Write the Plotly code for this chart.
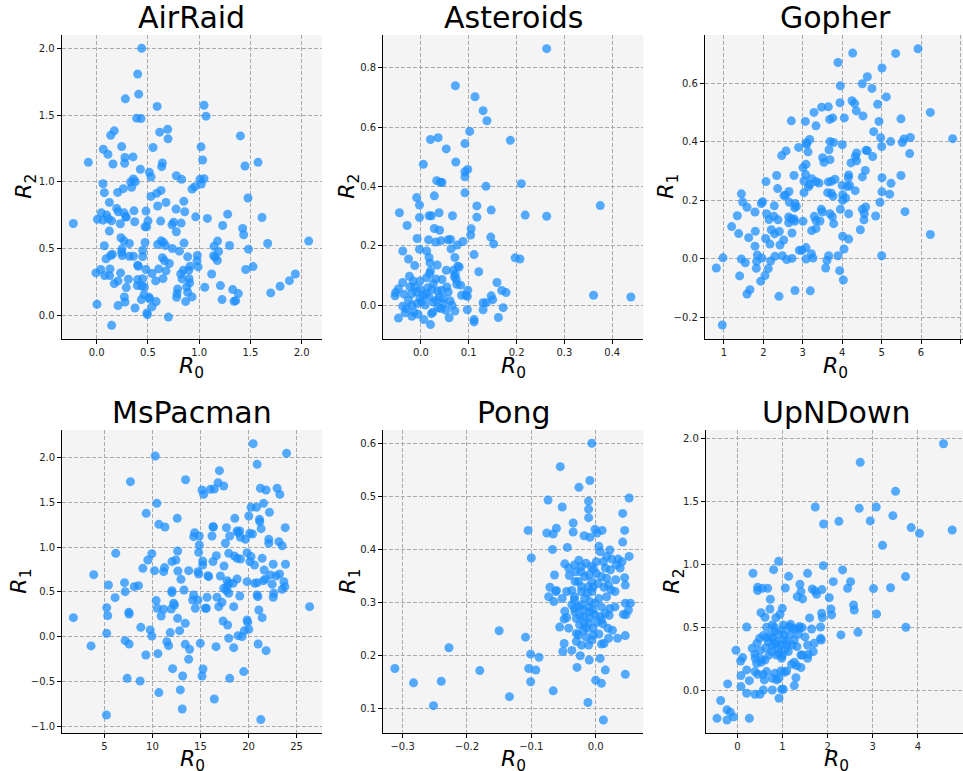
import plotly.graph_objects as go

# ---------------- data ----------------
AIRRAID_R0 = [
    0.439, 0.40, 0.41, 0.28, 0.59, 1.047, 1.067, 0.39, 0.433, 0.172,
    0.137, 0.615, 0.693, 0.696, 1.402, 0.065, 0.244, 0.55, 1.018, 0.11,
    -0.081, 0.276, 0.354, 0.273, 0.159, 1.034, 0.641, 0.634, 1.447, 1.574,
    0.426, 0.514, 0.53, 0.777, 0.829, 1.008, 1.047, 1.021, 0.959, 0.93,
    0.062, 0.075, 0.358, 0.332, 0.377, 0.341, 0.26, 0.205, 0.53, 0.585,
    0.628, 0.676, 0.595, 0.85, 0.859, 0.774, 0.124, 1.476, 0.195, 0.211,
    0.046, 0.098, 0.007, 0.062, 0.114, 0.146, 0.267, 0.289, 0.364, 0.481,
    0.501, 0.488, 0.371, 0.231, 0.124, -0.228, 0.624, 0.751, 0.735, 0.824,
    0.777, 0.966, 1.08, 1.278, 1.229, 1.424, 1.434, 1.613, 2.068, 1.668,
    1.48, 1.296, 1.179, 1.145, 1.189, 1.141, 1.158, 1.177, 1.454, 1.525,
    0.075, 0.237, 0.267, 0.319, 0.247, 0.244, 0.153, 0.137, 0.091, 0.25,
    0.319, 0.358, 0.449, 0.472, 0.449, 0.595, 0.628, 0.65, 0.67, 0.738,
    0.807, 0.852, 0.641, 0.663, 0.709, 0.888, 0.982, 0.979, 0.989, 0.911,
    0.898, 0.846, 0.82, 0.833, 0.901, 0.907, 0.878, 0.888, 0.93, 0.868,
    0.79, 0.784, 0.78, 0.7, 0.491, 0.494, 0.54, 0.58, 0.511, 0.517,
    0.462, 0.374, 0.276, 0.27, 0.208, 0.003, 0.146, -0.007, 0.039, 0.078,
    0.127, 0.13, 0.172, 0.208, 0.234, 0.289, 0.309, 0.4, 0.4, 0.397,
    0.439, 0.465, 0.449, 0.481, 0.54, 0.576, 0.605, 0.647, 0.676, 1.054,
    1.122, 1.207, 1.223, 1.327, 1.382, 1.34, 1.356, 1.698, 1.789, 1.88,
    1.938, 0.472, 0.407, 0.283, 0.436,
]
AIRRAID_R2 = [
    2.0, 1.807, 1.657, 1.622, 1.565, 1.574, 1.492, 1.477, 1.474, 1.382,
    1.349, 1.372, 1.394, 1.322, 1.344, 1.244, 1.264, 1.257, 1.262, 1.207,
    1.146, 1.182, 1.187, 1.139, 1.134, 1.164, 1.141, 1.114, 1.119, 1.146,
    1.094, 1.071, 1.036, 1.046, 1.019, 1.019, 1.024, 0.984, 0.964, 0.946,
    0.986, 0.919, 1.021, 0.999, 1.001, 0.959, 0.949, 0.921, 0.891, 0.914,
    0.936, 0.846, 0.819, 0.854, 0.776, 0.796, 0.846, 0.879, 0.801, 0.776,
    0.768, 0.751, 0.719, 0.713, 0.723, 0.708, 0.768, 0.738, 0.783, 0.781,
    0.708, 0.663, 0.701, 0.686, 0.631, 0.688, 0.706, 0.698, 0.678, 0.691,
    0.626, 0.738, 0.726, 0.758, 0.673, 0.651, 0.604, 0.733, 0.556, 0.538,
    0.496, 0.523, 0.556, 0.518, 0.478, 0.446, 0.436, 0.411, 0.343, 0.365,
    0.521, 0.581, 0.558, 0.538, 0.498, 0.473, 0.458, 0.448, 0.423, 0.448,
    0.443, 0.443, 0.488, 0.546, 0.441, 0.531, 0.558, 0.548, 0.523, 0.501,
    0.481, 0.541, 0.431, 0.408, 0.388, 0.438, 0.448, 0.408, 0.363, 0.368,
    0.338, 0.338, 0.31, 0.273, 0.275, 0.243, 0.213, 0.173, 0.138, 0.103,
    0.198, 0.163, 0.135, -0.013, 0.018, 0.005, 0.063, 0.103, 0.135, 0.123,
    0.155, 0.055, 0.1, 0.138, 0.073, 0.083, -0.075, 0.318, 0.343, 0.298,
    0.298, 0.348, 0.238, 0.258, 0.318, 0.208, 0.27, 0.375, 0.268, 0.223,
    0.22, 0.213, 0.275, 0.343, 0.313, 0.258, 0.348, 0.275, 0.333, 0.21,
    0.31, 0.223, 0.118, 0.193, 0.163, 0.105, 0.11, 0.168, 0.218, 0.26,
    0.31, 0.663, 0.368, 0.736, 0.118,
]

ASTEROIDS_R0 = [
    0.263, 0.072, 0.113, 0.130, 0.138, 0.102, 0.187, 0.020, 0.036, 0.092,
    0.053, 0.005, 0.073, 0.098, 0.092, 0.092, 0.033, 0.041, 0.044, 0.210,
    0.136, 0.092, 0.028, -0.009, -0.003, 0.117, 0.147, 0.375, -0.045, 0.017,
    0.022, 0.038, 0.066, 0.117, 0.218, 0.263, -0.003, -0.029, 0.028, 0.039,
    0.105, 0.104, -0.008, 0.016, 0.031, 0.042, 0.057, 0.062, 0.076, 0.088,
    0.146, 0.152, -0.038, -0.003, 0.012, 0.063, 0.111, -0.026, 0.017, 0.071,
    0.197, 0.207, -0.013, 0.019, 0.034, 0.020, 0.053, 0.068, 0.077, 0.080,
    0.121, 0.072, -0.024, 0.012, 0.031, 0.044, 0.074, -0.038, -0.016, -0.002,
    0.075, 0.083, 0.159, -0.047, -0.053, -0.054, -0.035, -0.013, -0.009, -0.001,
    0.005, 0.014, 0.023, 0.035, 0.043, 0.057, 0.085, 0.098, 0.094, 0.097,
    0.169, 0.178, 0.147, 0.130, 0.137, 0.150, 0.172, 0.361, 0.439, -0.038,
    -0.030, -0.019, -0.008, 0.001, 0.009, 0.026, 0.036, 0.047, 0.061, 0.065,
    0.052, 0.097, 0.130, -0.047, -0.019, -0.006, 0.006, 0.020, 0.022, 0.059,
    0.111, 0.111, 0.162, -0.014, -0.026, 0.038, 0.017, 0.047, -0.002, -0.019,
    0.026, 0.054, -0.023, 0.042, 0.071, -0.033,
    0.018, 0.070, 0.011, 0.032, 0.025,
]
ASTEROIDS_R2 = [
    0.865, 0.740, 0.703, 0.656, 0.622, 0.586, 0.556, 0.559, 0.565, 0.545,
    0.527, 0.475, 0.483, 0.458, 0.450, 0.433, 0.420, 0.415, 0.414, 0.410,
    0.401, 0.379, 0.369, 0.363, 0.338, 0.335, 0.321, 0.336, 0.312, 0.302,
    0.302, 0.312, 0.302, 0.297, 0.304, 0.300, 0.296, 0.269, 0.259, 0.253,
    0.258, 0.237, 0.225, 0.221, 0.213, 0.218, 0.221, 0.222, 0.203, 0.215,
    0.230, 0.207, 0.183, 0.189, 0.183, 0.190, 0.171, 0.156, 0.161, 0.161,
    0.160, 0.156, 0.134, 0.143, 0.136, 0.116, 0.118, 0.118, 0.132, 0.129,
    0.113, 0.105, 0.098, 0.093, 0.089, 0.087, 0.087, 0.077, 0.082, 0.082,
    0.071, 0.068, 0.077, 0.056, 0.043, 0.032, 0.037, 0.062, 0.045, 0.053,
    0.034, 0.059, 0.053, 0.048, 0.051, 0.045, 0.034, 0.051, 0.034, 0.030,
    0.050, 0.043, 0.032, 0.009, 0.009, 0.019, -0.008, 0.034, 0.028, -0.003,
    -0.011, 0.000, 0.006, 0.011, 0.001, 0.011, -0.008, 0.006, 0.015, 0.000,
    -0.017, -0.015, -0.015, -0.043, -0.037, -0.030, -0.048, -0.065, -0.028, -0.042,
    -0.048, -0.056, -0.041, -0.023, 0.017, 0.028, 0.028, 0.023, 0.023, 0.039,
    0.073, 0.062, 0.062, -0.011, -0.019, -0.025,
    0.107, 0.096, 0.039, 0.017, -0.023,
]

GOPHER_R0 = [
    5.924, 5.357, 4.266, 3.893, 5.010, 4.638, 4.511, 4.756, 3.953, 5.120,
    4.900, 4.249, 4.316, 3.944, 4.359, 4.528, 3.479, 3.648, 3.284, 6.237,
    3.758, 3.682, 4.054, 2.709, 3.064, 3.335, 5.492, 4.934, 4.799, 6.804,
    4.976, 5.230, 5.569, 5.729, 5.526, 5.002, 3.174, 3.090, 3.690, 3.783,
    4.003, 2.895, 3.132, 3.665, 2.574, 2.464, 4.604, 4.638, 4.367, 4.333,
    4.773, 5.712, 3.504, 3.690, 3.538, 4.223, 4.367, 3.005, 3.081, 2.337,
    2.777, 3.073, 3.225, 3.030, 3.335, 3.411, 3.648, 3.724, 3.817, 4.164,
    4.156, 4.511, 4.587, 5.010, 5.492, 2.066, 2.362, 2.650, 2.523, 2.565,
    3.140, 3.182, 3.030, 4.000, 4.186, 4.135, 4.329, 3.631, 3.724, 3.766,
    4.012, 4.088, 4.012, 5.010, 5.239, 5.205, 1.440, 1.474, 1.584, 1.787,
    1.981, 1.948, 2.277, 2.658, 2.802, 2.836, 2.794, 1.338, 1.195, 1.372,
    1.626, 1.787, 2.083, 2.142, 2.269, 2.371, 2.642, 2.709, 2.777, 2.642,
    2.794, 3.005, 3.293, 3.335, 3.437, 3.470, 3.496, 3.750, 3.783, 3.690,
    3.953, 4.164, 4.511, 4.596, 4.562, 4.553, 4.849, 4.959, 5.594, 3.225,
    3.335, 2.201, 2.286, 2.404, 2.514, 2.421, 2.167, 2.058, 2.726, 4.012,
    4.164, 4.460, 6.237, 2.912, 2.980, 3.081, 3.217, 3.259, 3.081, 4.046,
    3.893, 3.656, 3.614, 5.002, 0.975, 0.805, 1.398, 1.440, 1.541, 1.829,
    1.821, 1.964, 2.041, 1.931, 2.184, 2.125, 2.294, 2.481, 2.591, 2.726,
    1.660, 1.584, 2.396, 2.802, 3.191, 3.580, 3.936, 4.029, 0.958, 1.795,
    1.846, 3.098,
]
GOPHER_R1 = [
    0.719, 0.703, 0.704, 0.672, 0.653, 0.623, 0.599, 0.583, 0.592, 0.554,
    0.529, 0.541, 0.531, 0.534, 0.506, 0.489, 0.519, 0.520, 0.501, 0.501,
    0.482, 0.477, 0.482, 0.472, 0.470, 0.455, 0.479, 0.470, 0.435, 0.411,
    0.414, 0.401, 0.410, 0.415, 0.398, 0.384, 0.408, 0.397, 0.401, 0.398,
    0.390, 0.381, 0.366, 0.373, 0.369, 0.353, 0.371, 0.370, 0.362, 0.350,
    0.350, 0.360, 0.346, 0.339, 0.330, 0.328, 0.335, 0.312, 0.323, 0.285,
    0.285, 0.288, 0.274, 0.266, 0.264, 0.259, 0.263, 0.265, 0.272, 0.287,
    0.277, 0.280, 0.302, 0.277, 0.285, 0.264, 0.240, 0.230, 0.216, 0.217,
    0.246, 0.254, 0.226, 0.251, 0.251, 0.247, 0.233, 0.226, 0.224, 0.214,
    0.219, 0.208, 0.200, 0.229, 0.258, 0.221, 0.222, 0.194, 0.176, 0.160,
    0.195, 0.189, 0.181, 0.193, 0.189, 0.179, 0.174, 0.147, 0.110, 0.086,
    0.072, 0.043, 0.154, 0.134, 0.145, 0.133, 0.143, 0.136, 0.136, 0.123,
    0.128, 0.128, 0.145, 0.131, 0.129, 0.169, 0.160, 0.144, 0.120, 0.154,
    0.169, 0.154, 0.169, 0.177, 0.154, 0.133, 0.146, 0.193, 0.161, 0.096,
    0.103, 0.099, 0.085, 0.093, 0.064, 0.047, 0.050, 0.069, 0.088, 0.077,
    0.067, 0.099, 0.083, 0.029, 0.029, 0.038, 0.017, 0.002, -0.001, 0.033,
    0.010, 0.010, -0.006, 0.010, 0.003, -0.032, -0.059, -0.001, -0.014, -0.009,
    -0.033, 0.002, -0.058, -0.077, -0.008, -0.034, 0.008, 0.010, -0.003, 0.001,
    -0.106, -0.121, -0.129, -0.109, -0.110, -0.032, -0.041, -0.073, -0.227, 0.094,
    0.013, 0.392,
]

MSPACMAN_R0 = [
    20.48, 23.96, 10.29, 20.90, 16.97, 7.71, 13.45, 16.83, 17.42, 15.16,
    15.33, 16.03, 16.44, 21.24, 21.83, 22.98, 23.26, 10.46, 20.27, 20.83,
    21.56, 22.18, 9.35, 12.58, 10.67, 11.30, 21.14, 21.17, 20.03, 18.57,
    16.30, 16.34, 17.70, 21.31, 23.82, 14.39, 14.29, 14.88, 16.20, 18.04,
    18.81, 19.09, 18.91, 19.16, 19.68, 20.13, 20.41, 17.59, 22.11, 22.11,
    23.16, 23.50, 14.88, 6.18, 9.94, 9.52, 12.62, 12.44, 12.03, 14.81,
    15.23, 15.23, 16.30, 16.65, 17.94, 18.53, 18.81, 19.16, 19.85, 20.27,
    20.13, 20.62, 21.42, 22.57, 23.85, 21.63, 9.00, 10.22, 11.16, 11.26,
    12.65, 13.77, 14.74, 14.81, 17.45, 3.89, 5.42, 7.09, 7.16, 8.10,
    8.55, 6.11, 12.97, 15.78, 15.85, 17.07, 17.77, 17.94, 18.81, 18.39,
    19.85, 20.65, 20.93, 21.56, 21.77, 22.29, 22.88, 23.23, 22.46, 23.68,
    23.78, 23.50, 22.63, 22.57, 17.42, 17.77, 17.70, 17.94, 19.09, 20.90,
    20.97, 13.28, 12.03, 12.03, 14.29, 14.74, 14.18, 15.68, 16.72, 10.39,
    10.50, 10.91, 11.16, 11.96, 12.20, 12.30, 14.46, 15.61, 15.50, 16.90,
    17.24, 18.46, 21.07, 21.42, 5.24, 5.35, 7.54, 7.57, 12.62, 13.42,
    12.83, 11.85, 8.79, 9.77, 9.94, 17.35, 17.83, 19.85, 19.92, 20.03,
    19.57, 18.91, 19.33, 1.77, 5.24, 3.61, 7.16, 7.57, 11.50, 11.68,
    13.42, 13.87, 14.98, 16.62, 17.94, 18.46, 21.00, 21.83, 9.31, 10.57,
    13.77, 12.10, 13.14, 15.26, 15.16, 7.37, 8.72, 18.04, 19.50, 10.67,
    12.90, 16.44, 13.10, 5.21, 21.28, 26.36,
]
MSPACMAN_R1 = [
    2.158, 2.050, 2.020, 1.927, 1.856, 1.733, 1.755, 1.722, 1.685, 1.640,
    1.591, 1.647, 1.651, 1.659, 1.640, 1.659, 1.591, 1.491, 1.446, 1.446,
    1.491, 1.390, 1.379, 1.323, 1.256, 1.226, 1.312, 1.286, 1.349, 1.323,
    1.230, 1.226, 1.219, 1.208, 1.219, 1.163, 1.118, 1.126, 1.126, 1.126,
    1.181, 1.181, 1.163, 1.111, 1.088, 1.155, 1.148, 1.044, 1.088, 1.044,
    1.062, 1.017, 1.025, 0.932, 0.928, 0.857, 0.958, 0.857, 0.839, 0.943,
    0.846, 0.801, 0.839, 0.906, 0.932, 0.902, 0.876, 0.868, 0.939, 0.895,
    0.839, 0.801, 0.876, 0.809, 0.809, 0.745, 0.764, 0.738, 0.727, 0.772,
    0.734, 0.738, 0.727, 0.701, 0.790, 0.693, 0.578, 0.604, 0.503, 0.559,
    0.570, 0.436, 0.641, 0.682, 0.671, 0.678, 0.626, 0.596, 0.645, 0.596,
    0.615, 0.596, 0.604, 0.626, 0.645, 0.690, 0.678, 0.701, 0.585, 0.615,
    0.559, 0.529, 0.485, 0.440, 0.540, 0.559, 0.514, 0.485, 0.455, 0.466,
    0.447, 0.522, 0.514, 0.492, 0.466, 0.410, 0.410, 0.440, 0.440, 0.403,
    0.317, 0.231, 0.306, 0.309, 0.373, 0.354, 0.317, 0.317, 0.317, 0.335,
    0.384, 0.335, 0.298, 0.212, 0.324, 0.235, 0.272, 0.253, 0.205, 0.149,
    0.067, 0.045, 0.104, 0.075, 0.007, 0.175, 0.130, 0.186, 0.160, 0.082,
    0.067, 0.011, 0.000, 0.212, 0.037, -0.104, -0.045, -0.082, -0.056, -0.101,
    -0.086, -0.142, -0.075, -0.112, -0.019, -0.123, -0.082, -0.157, -0.205, -0.190,
    -0.253, -0.358, -0.440, -0.362, -0.440, -0.466, -0.496, -0.466, -0.391, -0.626,
    -0.596, -0.697, -0.809, -0.876, -0.928, 0.335,
]

PONG_R0 = [
    -0.006, -0.055, -0.009, -0.026, -0.074, -0.011, -0.011, -0.052, 0.052, 0.042,
    -0.011, -0.035, -0.061, -0.105, -0.076, -0.066, -0.035, -0.018, -0.009, -0.001,
    0.010, 0.002, 0.045, 0.042, -0.067, -0.044, -0.100, 0.005, 0.007, 0.022,
    0.025, 0.017, 0.035, 0.041, 0.052, 0.038, -0.048, -0.033, -0.022, -0.015,
    -0.007, -0.003, -0.064, -0.041, -0.031, -0.023, -0.017, -0.010, 0.001, 0.009,
    0.017, 0.023, 0.031, 0.045, -0.071, -0.061, -0.062, -0.045, -0.037, -0.027,
    -0.022, -0.022, -0.011, -0.004, 0.004, 0.013, 0.046, 0.030, -0.073, -0.065,
    -0.052, -0.033, -0.033, -0.017, -0.009, 0.017, 0.046, 0.054, -0.048, -0.032,
    -0.019, -0.011, -0.004, 0.009, 0.022, 0.030, 0.051, -0.045, -0.030, -0.018,
    -0.009, -0.001, 0.007, 0.021, 0.043, 0.047, -0.056, -0.025, -0.011, 0.002,
    0.009, 0.019, 0.026, -0.030, -0.027, -0.019, 0.005, 0.046, 0.034, -0.049,
    -0.030, -0.022, -0.015, -0.006, -0.011, 0.009, 0.013, -0.051, -0.037, -0.024,
    -0.010, 0.007, -0.029, 0.015, 0.000, 0.009, 0.046, -0.012, 0.012, -0.150,
    -0.109, -0.101, -0.088, -0.104, -0.093, -0.101, -0.066, -0.134, -0.228, -0.180,
    -0.240, -0.283, -0.312, -0.252, -0.042, -0.049, -0.033, -0.006, 0.005, 0.015,
    0.001, 0.024, -0.004, -0.018, -0.009, -0.013, -0.026, 0.011,
    -0.026, 0.012, -0.032, -0.006, 0.020, -0.022, -0.001, 0.015, -0.014, -0.004,
    0.020, -0.024, -0.037, -0.042, 0.032,
]
PONG_R1 = [
    0.600, 0.556, 0.530, 0.517, 0.493, 0.491, 0.476, 0.480, 0.497, 0.468,
    0.460, 0.450, 0.440, 0.436, 0.431, 0.429, 0.433, 0.426, 0.423, 0.438,
    0.436, 0.431, 0.436, 0.414, 0.400, 0.404, 0.384, 0.406, 0.396, 0.399,
    0.382, 0.387, 0.382, 0.377, 0.387, 0.365, 0.373, 0.371, 0.368, 0.374,
    0.368, 0.363, 0.352, 0.351, 0.358, 0.358, 0.349, 0.353, 0.355, 0.349,
    0.346, 0.362, 0.343, 0.347, 0.329, 0.323, 0.321, 0.321, 0.323, 0.340,
    0.330, 0.321, 0.330, 0.329, 0.336, 0.329, 0.333, 0.321, 0.311, 0.302,
    0.308, 0.311, 0.305, 0.308, 0.302, 0.311, 0.299, 0.299, 0.284, 0.282,
    0.286, 0.291, 0.286, 0.292, 0.289, 0.292, 0.286, 0.272, 0.270, 0.274,
    0.272, 0.277, 0.274, 0.276, 0.278, 0.277, 0.254, 0.258, 0.261, 0.263,
    0.267, 0.252, 0.248, 0.242, 0.239, 0.248, 0.241, 0.238, 0.233, 0.223,
    0.227, 0.220, 0.235, 0.230, 0.220, 0.222, 0.223, 0.208, 0.210, 0.200,
    0.192, 0.195, 0.178, 0.173, 0.154, 0.148, 0.165, 0.112, 0.079, 0.247,
    0.235, 0.203, 0.197, 0.176, 0.173, 0.151, 0.134, 0.123, 0.215, 0.172,
    0.152, 0.149, 0.176, 0.106, 0.252, 0.269, 0.289, 0.321, 0.308, 0.365,
    0.377, 0.324, 0.252, 0.261, 0.283, 0.318, 0.292, 0.260,
    0.380, 0.377, 0.340, 0.340, 0.333, 0.296, 0.299, 0.280, 0.252, 0.239,
    0.233, 0.274, 0.296, 0.365, 0.371,
]

UPNDOWN_R0 = [
    4.568, 2.723, 3.506, 1.727, 2.701, 3.077, 3.446, 2.251, 2.945, 1.911,
    3.852, 4.037, 4.760, 3.218, 0.915, 0.804, 0.347, 1.904, 2.332, 1.557,
    1.137, 3.727, 2.125, 2.509, 2.443, 3.018, 3.395, 0.450, 0.450, 0.554,
    0.672, 1.063, 1.387, 1.410, 1.661, 1.720, 1.756, 1.875, 1.328, 1.446,
    2.037, 0.731, 2.576, 2.590, 0.723, 0.996, 0.524, 0.613, 0.945, 0.856,
    1.867, 1.882, 2.089, 2.074, 3.085, 1.601, 0.207, 0.649, 0.775, 0.819,
    1.018, 1.151, 1.373, 1.373, 1.439, 1.646, 1.845, 1.845, 1.860, 2.295,
    2.672, 3.734, 0.494, 0.435, 0.332, -0.030, 0.118, 0.074, 0.081, 0.207,
    0.266, 0.207, -0.214, -0.369, -0.229, -0.155, -0.081, -0.229, -0.450, 0.266,
    0.391, 0.502, 0.576, 0.775, 0.923, 0.982, 1.018, 1.262, 1.299, 0.576,
    0.598, 0.450, 0.391, 0.428, 0.524, 0.399, 0.539, 0.391, 0.509,
    0.627, 0.775, 0.871, 0.923, 0.996, 0.834, 0.871, 0.923, 0.967, 1.041,
    1.092, 1.203, 1.262, 1.314, 1.410, 1.410, 1.439, 1.557, 1.572, 1.705,
    1.683, 1.557, 1.321, 1.218, 1.107, 0.908, 1.041, 1.166, 1.262, 1.351,
    1.498, 1.277, 0.775, 0.649, 0.576, 0.686, 0.819, 0.952, 1.018, 1.055,
    0.701, 0.613, 0.649, 0.775, 0.081, 0.996, 1.181, 1.203,
    0.834, 0.723, 0.908, 1.092, 1.129, 0.871, 0.760, 0.982,
]
UPNDOWN_R2 = [
    1.960, 1.812, 1.582, 1.458, 1.447, 1.458, 1.389, 1.344, 1.347, 1.323,
    1.294, 1.249, 1.275, 1.153, 1.026, 0.960, 0.931, 0.992, 0.958, 0.931,
    0.907, 0.905, 0.865, 0.865, 0.812, 0.810, 0.817, 0.820, 0.794, 0.812,
    0.812, 0.815, 0.844, 0.786, 0.807, 0.791, 0.765, 0.802, 0.746, 0.728,
    0.738, 0.725, 0.680, 0.640, 0.648, 0.653, 0.619, 0.582, 0.606, 0.579,
    0.614, 0.579, 0.601, 0.648, 0.608, 0.577, 0.505, 0.503, 0.521, 0.503,
    0.521, 0.508, 0.508, 0.495, 0.500, 0.489, 0.505, 0.415, 0.402, 0.442,
    0.463, 0.503, 0.415, 0.376, 0.336, 0.320, 0.262, 0.235, 0.119, 0.164,
    0.079, -0.021, 0.053, -0.079, -0.153, -0.172, -0.209, -0.233, -0.220, -0.220,
    -0.029, -0.029, 0.005, 0.005, -0.061, 0.011, 0.011, 0.040, 0.103, 0.127,
    0.085, 0.130, 0.151, 0.217, 0.225, 0.257, 0.249, 0.288, 0.317,
    0.341, 0.354, 0.389, 0.294, 0.278, 0.138, 0.085, 0.098, 0.156, 0.146,
    0.156, 0.209, 0.225, 0.198, 0.183, 0.283, 0.283, 0.257, 0.288, 0.376,
    0.310, 0.362, 0.349, 0.362, 0.362, 0.447, 0.442, 0.442, 0.402, 0.447,
    0.426, 0.489, 0.415, 0.421, 0.437, 0.389, 0.376, 0.362, 0.402, 0.323,
    0.283, 0.243, 0.151, 0.098, 0.032, 0.481, 0.526, 0.495,
    0.468, 0.442, 0.336, 0.389, 0.310, 0.283, 0.310, 0.257,
]

TITLES = ["AirRaid", "Asteroids", "Gopher", "MsPacman", "Pong", "UpNDown"]
Y_SUBSCRIPTS = ["2", "2", "1", "1", "1", "2"]

# ---------------- layout helpers ----------------
W, H = 963, 771


def fx(p):
    return p / W


def fy(p):
    return 1 - p / H


panels = [
    dict(x=AIRRAID_R0, y=AIRRAID_R2, xd=(61.7, 321.7), yd=(35, 338.7),
         xr=(-0.341, 2.195), yr=(-0.175, 2.10), dx=0.5, dy=0.5, fxm=".1f", fym=".1f",
         ylx=26, xly=29),
    dict(x=ASTEROIDS_R0, y=ASTEROIDS_R2, xd=(383.3, 643.3), yd=(35, 338.7),
         xr=(-0.0787, 0.465), yr=(-0.1125, 0.911), dx=0.1, dy=0.2, fxm=".1f", fym=".1f",
         ylx=349, xly=29),
    dict(x=GOPHER_R0, y=GOPHER_R1, xd=(705, 963), yd=(35, 338.7),
         xr=(0.518, 7.066), yr=(-0.274, 0.766), dx=1, dy=0.2, fxm="d", fym=".1f",
         ylx=668, xly=29),
    dict(x=MSPACMAN_R0, y=MSPACMAN_R1, xd=(62.3, 322.3), yd=(430, 733.3),
         xr=(0.617, 27.68), yr=(-1.081, 2.311), dx=5, dy=0.5, fxm="d", fym=".1f",
         ylx=21, xly=27),
    dict(x=PONG_R0, y=PONG_R1, xd=(383.3, 643.3), yd=(430, 733.3),
         xr=(-0.330, 0.074), yr=(0.054, 0.625), dx=0.1, dy=0.1, fxm=".1f", fym=".1f",
         ylx=350, xly=27),
    dict(x=UPNDOWN_R0, y=UPNDOWN_R2, xd=(706, 963), yd=(430, 733.3),
         xr=(-0.694, 5.0), yr=(-0.339, 2.069), dx=1, dy=0.5, fxm="d", fym=".1f",
         ylx=674, xly=27),
]

FONT = "DejaVu Sans"
fig = go.Figure()
annotations = []
layout_axes = {}

for i, p in enumerate(panels):
    assert len(p["x"]) == len(p["y"]), (i, len(p["x"]), len(p["y"]))
    k = "" if i == 0 else str(i + 1)
    fig.add_trace(go.Scatter(
        x=p["x"], y=p["y"], mode="markers",
        xaxis="x" + k, yaxis="y" + k,
        marker=dict(color="#1E90FF", size=9, opacity=0.75, line=dict(width=0)),
        showlegend=False, hoverinfo="skip",
    ))
    common = dict(
        showline=True, linecolor="black", linewidth=1.3, mirror=False,
        showgrid=True, gridcolor="#ababab", griddash="4px,2px", gridwidth=0.9,
        zeroline=False, ticks="outside", ticklen=4, tickwidth=1, tickcolor="black",
        tickfont=dict(family=FONT, size=10, color="#222"),
    )
    layout_axes["xaxis" + k] = dict(
        common, domain=[fx(p["xd"][0]), min(1.0, fx(p["xd"][1]))],
        range=list(p["xr"]), anchor="y" + k, tick0=0, dtick=p["dx"],
        tickformat=p["fxm"],
    )
    layout_axes["yaxis" + k] = dict(
        common, domain=[fy(p["yd"][1]), fy(p["yd"][0])],
        range=list(p["yr"]), anchor="x" + k, tick0=0, dtick=p["dy"],
        tickformat=p["fym"],
    )
    cx = (p["xd"][0] + p["xd"][1]) / 2
    if i % 3 == 2:
        cx = (p["xd"][0] + p["xd"][0] + 260) / 2
    cy = (p["yd"][0] + p["yd"][1]) / 2
    # title
    annotations.append(dict(
        text=TITLES[i], xref="paper", yref="paper", x=fx(cx), y=fy(p["yd"][0] - 17.5),
        xanchor="center", yanchor="middle", showarrow=False,
        font=dict(family=FONT, size=30, color="black"),
    ))
    # x label
    annotations.append(dict(
        text="<i>R</i><sub>0</sub>", xref="paper", yref="paper",
        x=fx(cx), y=fy(p["yd"][1] + p["xly"]), xanchor="center", yanchor="middle",
        showarrow=False, font=dict(family=FONT, size=22, color="black"),
    ))
    # y label
    annotations.append(dict(
        text="<i>R</i><sub>" + Y_SUBSCRIPTS[i] + "</sub>", xref="paper", yref="paper",
        x=fx(p["ylx"]), y=fy(cy), xanchor="center", yanchor="middle", textangle=-90,
        showarrow=False, font=dict(family=FONT, size=22, color="black"),
    ))

fig.update_layout(
    width=W, height=H, autosize=False,
    margin=dict(l=0, r=0, t=0, b=0),
    paper_bgcolor="white", plot_bgcolor="#f4f4f4",
    annotations=annotations, showlegend=False,
    **layout_axes,
)

fig.write_html("out.html")
